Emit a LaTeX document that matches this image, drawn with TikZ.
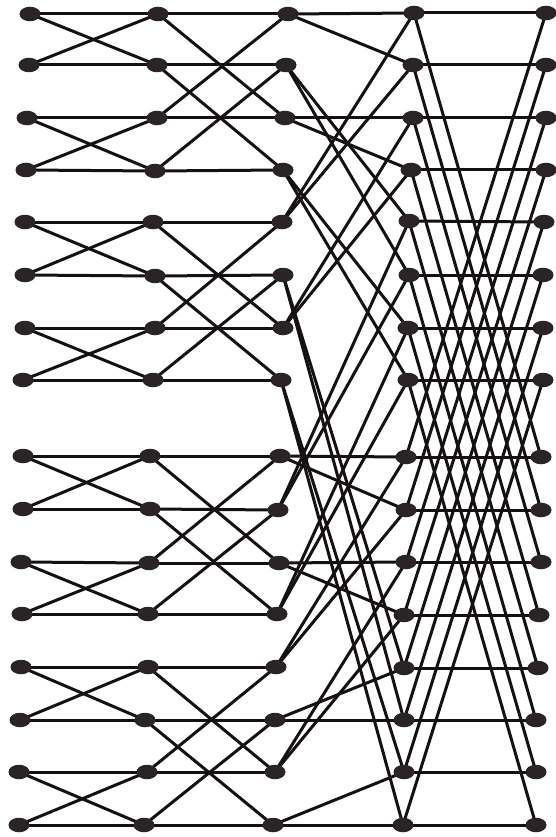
\documentclass[tikz,border=0pt]{standalone}
\usetikzlibrary{shapes.geometric,backgrounds}
\definecolor{nodefill}{HTML}{2A2427}
\definecolor{wire}{HTML}{151112}
\tikzset{
  dot/.style={ellipse,fill=nodefill,draw=none,minimum width=21pt,minimum height=14.5pt,inner sep=0pt},
  wirestyle/.style={draw=wire,line width=3pt}
}
\begin{document}
\begin{tikzpicture}[x=1pt,y=-1pt]
\useasboundingbox (0,0) rectangle (556,837);
% column 0
\foreach \r/\x/\y in {0/30/14,1/29/65,2/27/118,3/26/170,4/25/222,5/25/275,6/25/328,7/23/380,8/23/456,9/23/509,10/21/562,11/22/614,12/21/667,13/20/720,14/19/772,15/19/825}
  \node[dot] (n0-\r) at (\x,\y) {};
% column 1
\foreach \r/\x/\y in {0/158/14,1/157/65,2/157/118,3/155/171,4/153/222,5/155/276,6/155/328,7/153/380,8/150/456,9/150/509,10/149/563,11/148/614,12/148/667,13/145/720,14/147/772,15/144/825}
  \node[dot] (n1-\r) at (\x,\y) {};
% column 2
\foreach \r/\x/\y in {0/288/14,1/286/65,2/285/118,3/283/170,4/282/222,5/283/275,6/283/328,7/281/380,8/280/456,9/278/510,10/279/563,11/277/614,12/276/667,13/275/720,14/275/772,15/273/825}
  \node[dot] (n2-\r) at (\x,\y) {};
% column 3
\foreach \r/\x/\y in {0/414/13,1/413/65,2/413/118,3/411/170,4/409/221,5/409/275,6/408/328,7/408/380,8/406/457,9/406/510,10/406/562,11/404/615,12/404/668,13/404/720,14/404/772,15/403/825}
  \node[dot] (n3-\r) at (\x,\y) {};
% column 4
\foreach \r/\x/\y in {0/546/13,1/546/65,2/546/118,3/546/170,4/544/222,5/543/275,6/543/328,7/543/380,8/541/457,9/541/510,10/541/562,11/539/615,12/538/668,13/536/720,14/536/772,15/536/825}
  \node[dot] (n4-\r) at (\x,\y) {};
\begin{scope}[on background layer]
\fill[white] (0,0) rectangle (556,837);
% stage 1
\foreach \a in {0,2,...,14}{
  \pgfmathtruncatemacro{\b}{\a+1}
  \draw[wirestyle] (n0-\a.center) -- (n1-\a.center);
  \draw[wirestyle] (n0-\a.center) -- (n1-\b.center);
  \draw[wirestyle] (n0-\b.center) -- (n1-\a.center);
  \draw[wirestyle] (n0-\b.center) -- (n1-\b.center);
}
% stage 2
\foreach \a in {0,1,4,5,8,9,12,13}{
  \pgfmathtruncatemacro{\b}{\a+2}
  \draw[wirestyle] (n1-\a.center) -- (n2-\a.center);
  \draw[wirestyle] (n1-\a.center) -- (n2-\b.center);
  \draw[wirestyle] (n1-\b.center) -- (n2-\a.center);
  \draw[wirestyle] (n1-\b.center) -- (n2-\b.center);
}
% stage 3
\foreach \a/\b in {0/0,0/1,2/2,2/3,4/0,4/1,6/2,6/3,8/8,8/9,10/10,10/11,12/8,12/9,14/10,14/11,13/12,13/13,15/14,15/15,5/12,5/13,7/14,7/15,1/4,1/5,3/6,3/7,9/4,9/5,11/6,11/7}
  \draw[wirestyle] (n2-\a.center) -- (n3-\b.center);
% stage 4
\foreach \a in {0,...,7}{
  \pgfmathtruncatemacro{\b}{\a+8}
  \draw[wirestyle] (n3-\a.center) -- (n4-\a.center);
  \draw[wirestyle] (n3-\a.center) -- (n4-\b.center);
  \draw[wirestyle] (n3-\b.center) -- (n4-\a.center);
  \draw[wirestyle] (n3-\b.center) -- (n4-\b.center);
}
\end{scope}
\end{tikzpicture}
\end{document}
